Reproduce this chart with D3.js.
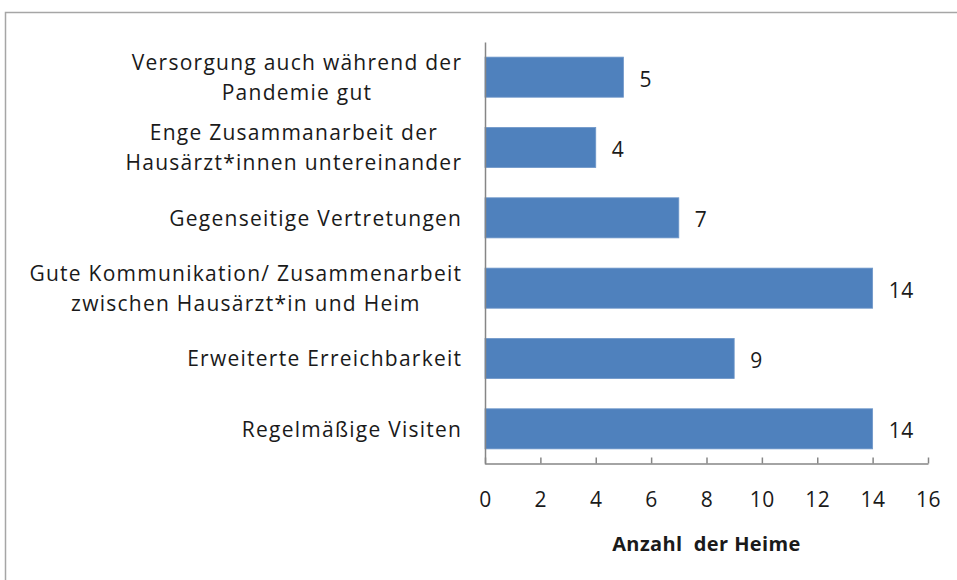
<!DOCTYPE html>
<html><head><meta charset="utf-8">
<script src="https://cdn.jsdelivr.net/npm/d3@7/dist/d3.min.js"></script>
<style>body{margin:0;background:#fff;} svg{display:block;}</style>
</head><body>
<svg id="chart" width="957" height="580"></svg>
<script>
const categories = [
  "Versorgung auch während der\nPandemie gut",
  "Enge Zusammanarbeit der\nHausärzt*innen untereinander",
  "Gegenseitige Vertretungen",
  "Gute Kommunikation/ Zusammenarbeit\nzwischen Hausärzt*in und Heim",
  "Erweiterte Erreichbarkeit",
  "Regelmäßige Visiten"
];
const values = [5, 4, 7, 14, 9, 14];
const xTicks = [0, 2, 4, 6, 8, 10, 12, 14, 16];
const axisTitle = "Anzahl  der Heime";

const FONT = "'Open Sans', sans-serif";
const svg = d3.select("#chart");

// outer frame
svg.append("rect").attr("x", 5.5).attr("y", 12.5).attr("width", 1000).attr("height", 700)
  .attr("fill", "none").attr("stroke", "#a6a6a6").attr("stroke-width", 1.5);

const x = d3.scaleLinear().domain([0, 16]).range([485, 928]);
const y = d3.scaleBand().domain(d3.range(categories.length)).range([42, 464])
  .paddingInner(0.43).paddingOuter(0.215);

// bars
svg.append("g").selectAll("rect").data(values).join("rect")
  .attr("x", x(0)).attr("y", (d, i) => y(i))
  .attr("width", d => x(d) - x(0)).attr("height", y.bandwidth())
  .attr("fill", "#4f81bd").attr("stroke", "#6f97c9").attr("stroke-width", 0.8);

// x axis
const xAxis = svg.append("g").attr("transform", "translate(0,463.5)")
  .call(d3.axisBottom(x).tickValues(xTicks).tickSizeInner(-6).tickSizeOuter(0).tickPadding(29));
xAxis.select(".domain").attr("stroke", "#868686").attr("stroke-width", 1.5);
xAxis.selectAll(".tick line").attr("stroke", "#868686").attr("stroke-width", 1.5);
xAxis.selectAll(".tick text").attr("font-family", FONT).attr("font-size", 21).attr("fill", "#1a1a1a")
  .attr("letter-spacing", "0.6px");

// y axis
const yAxis = svg.append("g").attr("transform", "translate(485,0)")
  .call(d3.axisLeft(y).tickSize(0).tickFormat(""));
yAxis.select(".domain").attr("stroke", "#868686").attr("stroke-width", 1.5);

// category labels
const LS = 1.25;
const labelG = svg.append("g").attr("font-family", FONT).attr("font-size", 21)
  .attr("letter-spacing", LS + "px").attr("fill", "#1a1a1a");
categories.forEach((c, i) => {
  const lines = c.split("\n");
  const cy = y(i) + y.bandwidth() / 2;
  const lh = 30;
  const t = labelG.append("text").attr("text-anchor", "middle");
  const spans = lines.map((ln, k) => t.append("tspan").attr("x", 0)
    .attr("y", cy + (k - (lines.length - 1) / 2) * lh).attr("dy", "0.38em").text(ln));
  const w = d3.max(spans, s => s.node().getComputedTextLength());
  t.selectAll("tspan").attr("x", 461 + LS - w / 2);
});

// value labels
svg.append("g").selectAll("text").data(values).join("text")
  .attr("x", d => x(d) + 16).attr("y", (d, i) => y(i) + y.bandwidth() / 2).attr("dy", "0.45em")
  .attr("font-family", FONT).attr("font-size", 21).attr("letter-spacing", "0.6px")
  .attr("fill", "#1a1a1a").text(d => d);

// axis title
svg.append("text").attr("x", (x(0) + x(16)) / 2).attr("y", 551).attr("text-anchor", "middle")
  .attr("font-family", FONT).attr("font-weight", "bold").attr("font-size", 20).attr("letter-spacing", "0.4px")
  .attr("fill", "#1a1a1a")
  .attr("xml:space", "preserve").style("white-space", "pre").text(axisTitle);
</script>
</body></html>
